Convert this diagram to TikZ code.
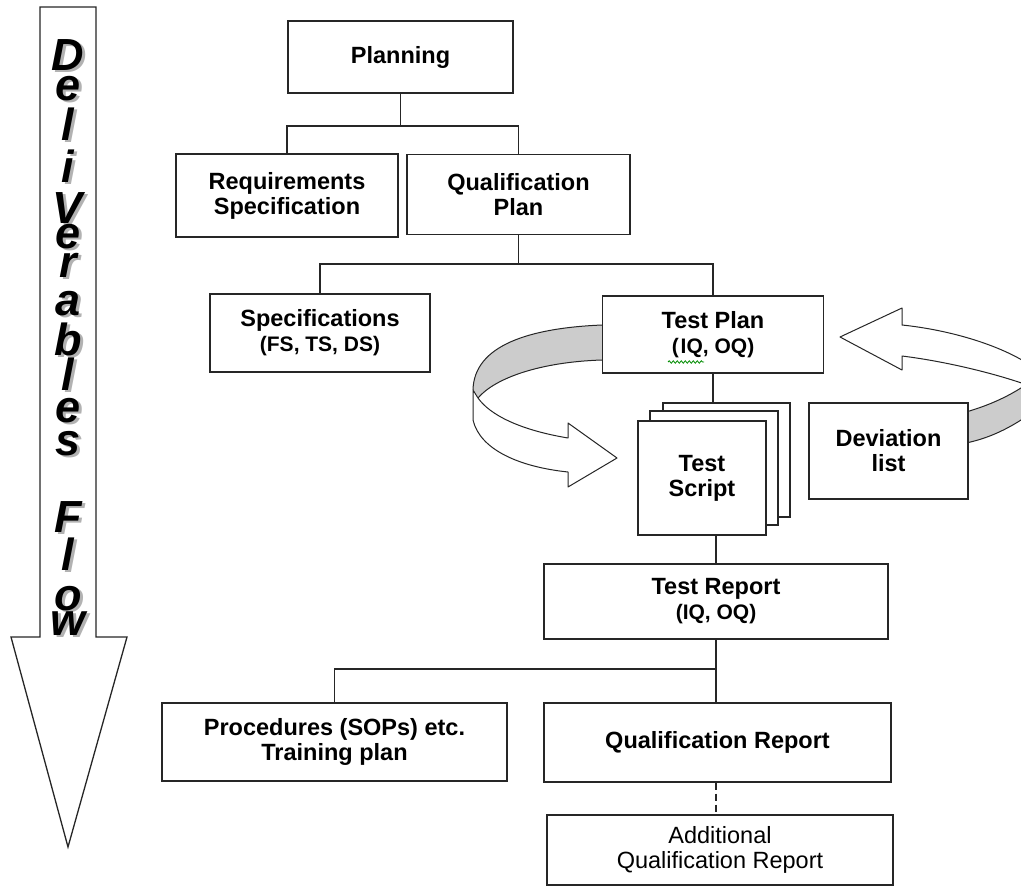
\documentclass[tikz,border=0pt]{standalone}
\usepackage{fontspec}
\setmainfont{Liberation Sans}
\newfontfamily\wafont{Liberation Sans}
\usetikzlibrary{decorations.pathmorphing}
\newcommand\bigtxt{\fontsize{23.5}{25}\selectfont\bfseries}
\newcommand\smalltxt{\fontsize{21}{26}\selectfont\bfseries}
\newcommand\regtxt{\fontsize{23.5}{25}\selectfont}
\newcommand\shadowed[1]{\makebox[0pt][l]{\kern3pt\raisebox{-2pt}{\textcolor{black!30}{#1}}}#1}
\begin{document}
\begin{tikzpicture}[x=1pt,y=-1pt,
  box/.style={draw=black!85, line width=1.4pt, fill=white, inner sep=0pt, align=center, font=\bigtxt},
  conn/.style={draw=black!85, line width=1.4pt},
  ribbon/.style={draw=black!85, line width=1pt, line join=round},
  wa/.style={anchor=base, inner sep=0pt, font=\wafont\bfseries\itshape\fontsize{45}{45}\selectfont}]
\useasboundingbox (0,0) rectangle (1021,886);

% big arrow
\draw[line width=1.3pt, draw=black!85, fill=white] (40,7) -- (96,7) -- (96,637) -- (127,637) -- (68,847) -- (11,637) -- (40,637) -- cycle;
\foreach \ch/\yy [count=\i] in {D/70, e/100, l/140, i/182, V/223, e/248, r/277, a/315, b/355, l/390, e/422, s/455, F/532, l/570, o/610, w/635}{
  \node[wa] (ch\i) at (68,\yy) {\shadowed{\ch}};
}

% left ribbon
\fill[black!20] (602,325) .. controls (530,328) and (474,345) .. (473,390)
   -- (478,398) .. controls (495,378) and (540,362) .. (602,360) -- cycle;
\draw[ribbon] (602,325) .. controls (530,328) and (474,345) .. (473,390);
\draw[ribbon] (478,398) .. controls (495,378) and (540,362) .. (602,360);
\draw[ribbon, fill=white] (473,390) -- (473,420) .. controls (480,450) and (520,467) .. (568,472)
   -- (568,487) -- (617,458) -- (568,423) -- (568,438)
   .. controls (520,430) and (490,415) .. (478,398) -- cycle;

% right ribbon
\begin{scope}
\clip (0,0) rectangle (1021,886);
\fill[black!20] (966,412) .. controls (990,405) and (1010,396) .. (1030,382) -- (1030,414) .. controls (1010,428) and (990,438) .. (966,443) -- cycle;
\draw[ribbon] (966,412) .. controls (990,405) and (1010,396) .. (1030,382);
\draw[ribbon] (1030,414) .. controls (1010,428) and (990,438) .. (966,443);
\fill[white] (1030,365) .. controls (1000,345) and (950,330) .. (902,325) -- (902,308) -- (840,337) -- (902,370) -- (902,356) .. controls (950,362) and (1000,375) .. (1030,386) -- cycle;
\draw[ribbon] (1030,365) .. controls (1000,345) and (950,330) .. (902,325) -- (902,308) -- (840,337) -- (902,370) -- (902,356) .. controls (950,362) and (1000,375) .. (1030,386);
\end{scope}

% boxes
\node[box, minimum width=225, minimum height=72] (plan) at (400.5,57) {Planning};
\node[box, minimum width=222, minimum height=83] (req) at (287,195.5) {Requirements\\Specification};
\node[box, minimum width=223, minimum height=80] (qplan) at (518.5,194.5) {Qualification\\Plan};
\node[box, minimum width=220, minimum height=78] (spec) at (320,333) {Specifications\\\smalltxt (FS, TS, DS)};
\node[box, minimum width=221, minimum height=77] (tplan) at (713,334.5) {Test Plan\\\smalltxt (\kern2pt IQ, OQ)};
\node[box, minimum width=127, minimum height=114] (back) at (726.5,460) {};
\node[box, minimum width=128, minimum height=114] (mid) at (714,468) {};
\node[box, minimum width=128, minimum height=114] (front) at (702,478) {Test\\Script};
\node[box, minimum width=159, minimum height=96] (dev) at (888.5,451) {Deviation\\list};
\node[box, minimum width=344, minimum height=75] (trep) at (716,601.5) {Test Report\\\smalltxt (IQ, OQ)};
\node[box, minimum width=345, minimum height=78] (proc) at (334.5,742) {Procedures (SOPs) etc.\\Training plan};
\node[box, minimum width=347, minimum height=79] (qrep) at (717.5,742.5) {Qualification Report};
\node[box, minimum width=346, minimum height=70, font=\regtxt] (add) at (720,850) {Additional\\Qualification Report};

% spell-check squiggle
\draw[green!55!black, line width=0.8pt, decorate, decoration={snake, amplitude=1.2pt, segment length=4pt}] (668,362) -- (704,362);

% connectors
\coordinate (j1) at (400.5,126);
\draw[conn] (plan.south) -- (j1);
\draw[conn] (req.north) |- (j1) -| (qplan.north);
\coordinate (j2) at (518.5,264);
\draw[conn] (qplan.south) -- (j2);
\draw[conn] (spec.north) |- (j2) -| (tplan.north);
\draw[conn] (tplan.south) -- (tplan.south |- back.north);
\draw[conn] (trep.north |- front.south) -- (trep.north);
\coordinate (j3) at (716,669);
\draw[conn] (trep.south) -- (trep.south |- qrep.north);
\draw[conn] (proc.north) |- (j3);
\draw[conn, dash pattern=on 7pt off 4pt] (trep.south |- qrep.south) -- (trep.south |- add.north);
\end{tikzpicture}
\end{document}
